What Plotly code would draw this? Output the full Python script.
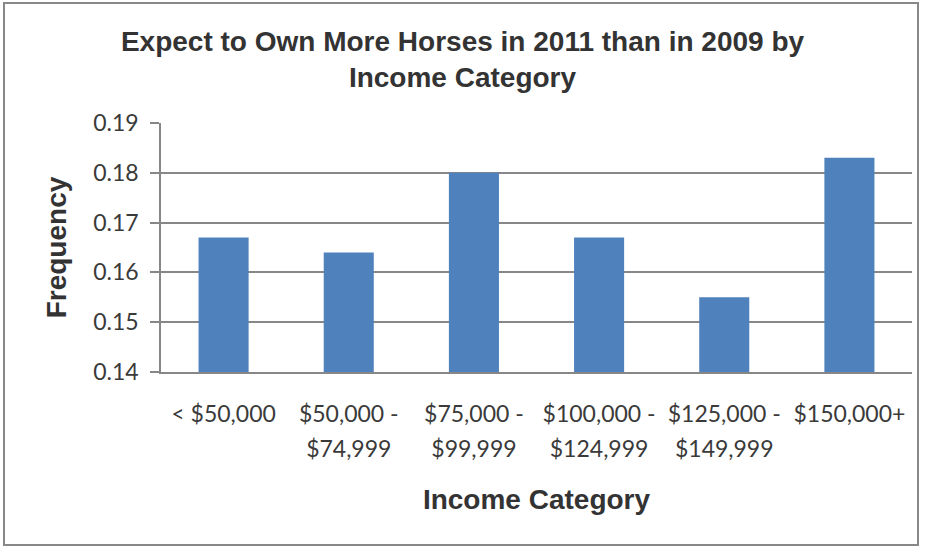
import plotly.graph_objects as go

categories = ["< $50,000", "$50,000 - $74,999", "$75,000 - $99,999",
              "$100,000 - $124,999", "$125,000 - $149,999", "$150,000+"]
frequency = [0.167, 0.164, 0.180, 0.167, 0.155, 0.183]
y_ticks = [0.14, 0.15, 0.16, 0.17, 0.18, 0.19]

# tick label rows (Excel wraps the ranges onto two lines)
row1 = [c.split(" - ")[0] + (" -" if " - " in c else "") for c in categories]
row2 = [c.split(" - ")[1] if " - " in c else "" for c in categories]
positions = list(range(len(categories)))

W, H = 925, 546
L, R, T, B = 161, 13, 123, 174
pw, ph = W - L - R, H - T - B

axis_col = "#878787"
tick_font = dict(family="Lato", size=23, color="#3a3a3a")
bold_font = dict(family="Liberation Sans", size=28, color="#333333", weight="bold")

fig = go.Figure()
fig.add_trace(go.Bar(x=positions, y=frequency, marker=dict(color="#4F81BD", line=dict(width=0)),
                     hovertext=categories, hoverinfo="text+y"))
fig.add_trace(go.Scatter(x=positions, y=[None] * len(positions), xaxis="x2", yaxis="y",
                         mode="markers", showlegend=False, hoverinfo="skip"))

fig.update_layout(
    width=W, height=H,
    margin=dict(l=L, r=R, t=T, b=B),
    paper_bgcolor="white", plot_bgcolor="white",
    bargap=0.6,
    showlegend=False,
    title=dict(
        text="Expect to Own More Horses in 2011 than in 2009 by<br>Income Category",
        font=bold_font,
        x=0.5, xref="container", xanchor="center",
        y=1 - 51 / H, yref="container", yanchor="top",
    ),
    xaxis=dict(
        type="linear", range=[-0.5, len(categories) - 0.5],
        tickvals=positions, ticktext=row1,
        showline=True, linecolor=axis_col, linewidth=1.5,
        ticks="", showgrid=False, zeroline=False,
        tickfont=tick_font, ticklabelstandoff=21,
        title=dict(text="Income Category", standoff=63, font=bold_font),
    ),
    xaxis2=dict(
        type="linear", range=[-0.5, len(categories) - 0.5],
        overlaying="x", anchor="y", side="bottom",
        tickvals=positions, ticktext=row2,
        showline=False, ticks="", showgrid=False, zeroline=False,
        tickfont=tick_font, ticklabelstandoff=61,
    ),
    yaxis=dict(
        range=[0.14, 0.19], tickvals=y_ticks, ticktext=[f"{v:.2f}" for v in y_ticks],
        showline=True, linecolor=axis_col, linewidth=1.5,
        ticks="outside", ticklen=9, tickcolor=axis_col, tickwidth=1.5,
        showgrid=True, gridcolor=axis_col, gridwidth=1.5, zeroline=False,
        tickfont=tick_font, ticklabelstandoff=7,
        title=dict(text="Frequency", standoff=18, font=bold_font),
    ),
    shapes=[dict(
        type="rect", xref="paper", yref="paper",
        x0=(4 - L) / pw, x1=(918 - L) / pw,
        y0=(H - B - 545) / ph, y1=(H - B - 3) / ph,
        line=dict(color="#888888", width=2), fillcolor="rgba(0,0,0,0)", layer="below",
    )],
)

fig.write_html("out.html", config={"displayModeBar": False},
               post_script="document.body.style.margin='0';document.body.style.overflow='hidden';")
